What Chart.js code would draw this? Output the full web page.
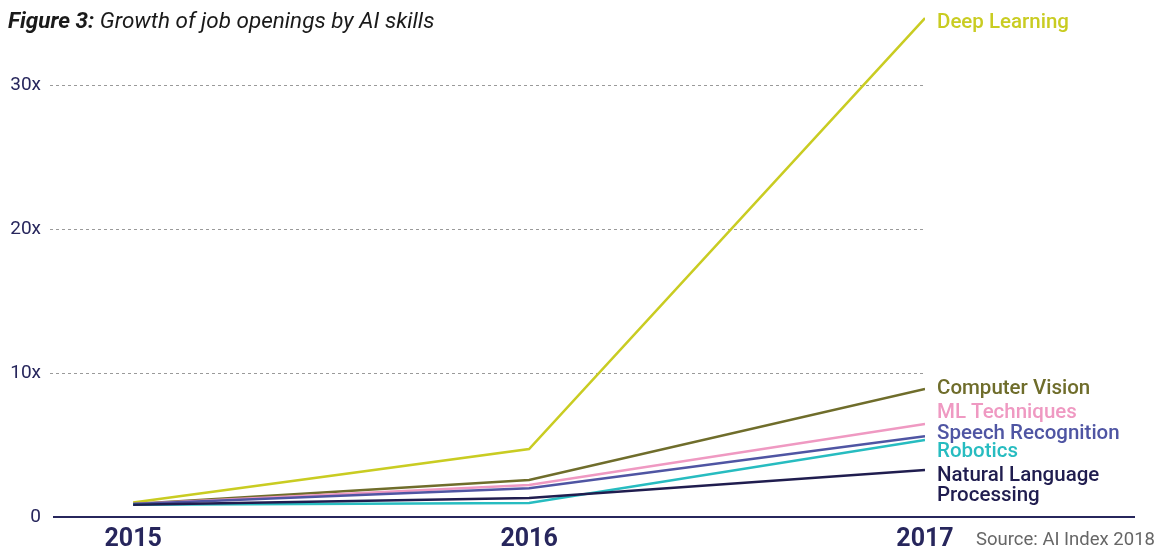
<!DOCTYPE html>
<html>
<head>
<meta charset="utf-8">
<script src="https://cdn.jsdelivr.net/npm/chart.js@4"></script>
<style>
  html, body { margin: 0; padding: 0; background: #fff; }
  #wrap { position: relative; width: 1168px; height: 548px; overflow: hidden; }
  canvas { position: absolute; left: 0; top: 0; }
  #title { position: absolute; left: 8px; top: 9px; font-family: Roboto, sans-serif; font-size: 22.5px; line-height: 1; font-style: italic; color: #1a1a1a; white-space: nowrap; }
  #title b { font-weight: 700; }
  #source { position: absolute; left: 976px; top: 530px; font-family: Roboto, sans-serif; font-size: 18.5px; line-height: 1; color: #666; white-space: nowrap; }
</style>
</head>
<body>
<div id="wrap">
  <canvas id="c" width="1168" height="548"></canvas>
  <div id="title"><b>Figure 3:</b> Growth of job openings by AI skills</div>
  <div id="source">Source: AI Index 2018</div>
</div>
<script>
// ---- data ----
const years = [2015, 2016, 2017];
const yTicks = [0, 10, 20, 30];
const seriesNames = ["Deep Learning", "Computer Vision", "ML Techniques", "Speech Recognition", "Robotics", "Natural Language Processing"];
const deepLearning      = [1.0, 4.72, 34.65];
const computerVision    = [0.9, 2.57, 8.89];
const mlTechniques      = [0.9, 2.22, 6.46];
const speechRecognition = [0.9, 2.0, 5.6];
const robotics          = [0.85, 0.97, 5.35];
const nlp               = [0.85, 1.32, 3.26];

// ---- styles ----
const colors = ["#c9cc22", "#6f6d2b", "#ef99c2", "#4f55a3", "#27bcc0", "#201d4f"];
const labelLines = [["Deep Learning"], ["Computer Vision"], ["ML Techniques"], ["Speech Recognition"], ["Robotics"], ["Natural Language", "Processing"]];
const labelNudge = [10, 5, -6, 3, 17, 11]; // baseline offset (px) from line end
const navy = "#27265c";

const allSeries = [deepLearning, computerVision, mlTechniques, speechRecognition, robotics, nlp];

const datasets = allSeries.map((vals, i) => ({
  label: seriesNames[i],
  data: years.map((yr, j) => ({ x: yr, y: vals[j] })),
  borderColor: colors[i],
  backgroundColor: colors[i],
  borderWidth: 2.5,
  pointRadius: 0,
  tension: 0,
  fill: false
})).reverse();

const endLabels = {
  id: 'endLabels',
  afterDraw(chart) {
    const ctx = chart.ctx;
    const xs = chart.scales.x, ys = chart.scales.y;
    ctx.save();
    ctx.strokeStyle = navy;
    ctx.lineWidth = 2;
    ctx.beginPath();
    const y0 = ys.getPixelForValue(0);
    ctx.moveTo(53, y0);
    ctx.lineTo(1135, y0);
    ctx.stroke();
    ctx.font = "500 20.5px Roboto, sans-serif";
    ctx.textBaseline = "alphabetic";
    ctx.textAlign = "left";
    allSeries.forEach((vals, i) => {
      const px = xs.getPixelForValue(years[years.length - 1]) + 12;
      const py = ys.getPixelForValue(vals[vals.length - 1]) + labelNudge[i];
      ctx.fillStyle = colors[i];
      labelLines[i].forEach((t, k) => ctx.fillText(t, px, py + k * 20));
    });
    ctx.restore();
  }
};

new Chart(document.getElementById('c'), {
  type: 'line',
  data: { datasets },
  options: {
    responsive: false,
    animation: false,
    devicePixelRatio: 1,
    layout: { padding: { left: 0, right: 243, top: 13, bottom: 0 } },
    plugins: { legend: { display: false }, tooltip: { enabled: false }, title: { display: false } },
    scales: {
      x: {
        type: 'linear',
        min: 2014.79,
        max: 2017,
        afterBuildTicks: s => { s.ticks = years.map(v => ({ value: v })); },
        afterFit: s => { s.height = 31; s.paddingLeft = 0; s.paddingRight = 0; },
        grid: { display: false },
        border: { display: false },
        ticks: {
          autoSkip: false, maxRotation: 0, padding: 0,
          color: navy,
          font: { family: 'Roboto', size: 25, weight: 'bold' },
          callback: v => String(v)
        }
      },
      y: {
        min: 0,
        max: 35,
        afterBuildTicks: s => { s.ticks = yTicks.map(v => ({ value: v })); },
        afterFit: s => { s.width = 50; s.paddingTop = 0; s.paddingBottom = 0; },
        grid: {
          drawTicks: false,
          lineWidth: 1,
          color: ctx => (ctx.tick && ctx.tick.value === 0) ? 'rgba(0,0,0,0)' : '#9a9a9a'
        },
        border: { display: false, dash: [3, 3] },
        ticks: {
          padding: 9,
          color: navy,
          font: { family: 'Roboto', size: 19 },
          callback: v => v === 0 ? '0' : v + 'x'
        }
      }
    }
  },
  plugins: [endLabels]
});
</script>
</body>
</html>
